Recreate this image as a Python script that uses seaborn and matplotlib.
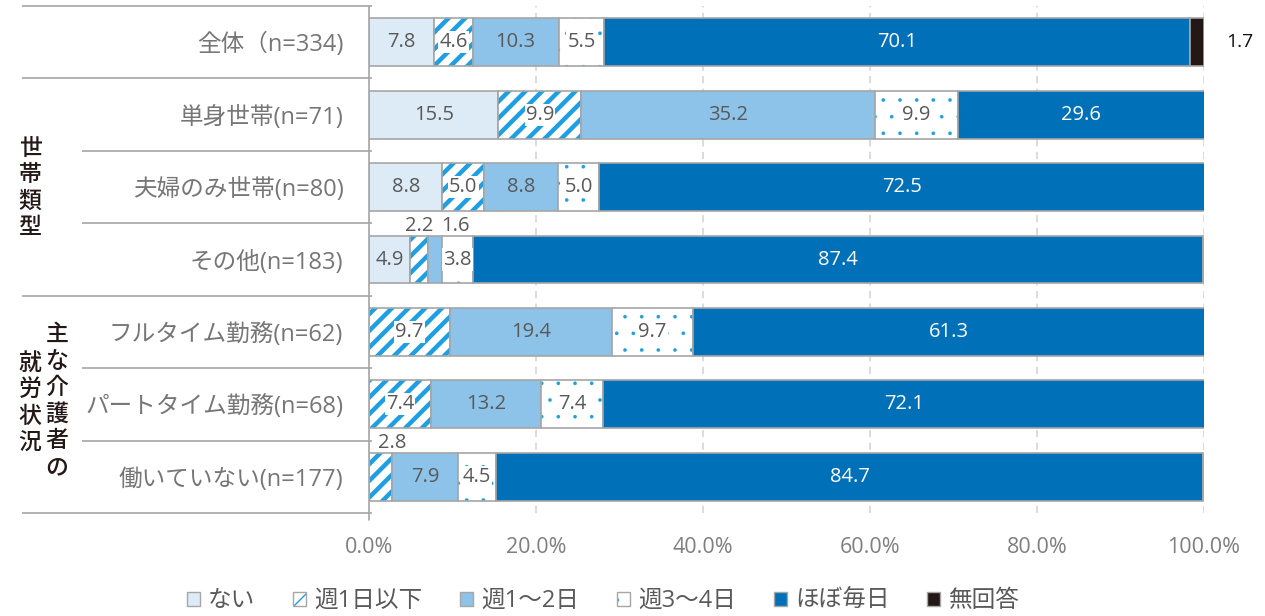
import matplotlib
matplotlib.use("Agg")
import matplotlib.pyplot as plt
import matplotlib.transforms as mtransforms
from matplotlib.patches import Patch
import numpy as np
import seaborn as sns

# ---- data -------------------------------------------------------------
categories = ["全体（n=334)", "単身世帯(n=71)", "夫婦のみ世帯(n=80)", "その他(n=183)",
              "フルタイム勤務(n=62)", "パートタイム勤務(n=68)", "働いていない(n=177)"]
series_names = ["ない", "週1日以下", "週1～2日", "週3～4日", "ほぼ毎日", "無回答"]
nai = [7.8, 15.5, 8.8, 4.9, 0.0, 0.0, 0.0]
week_le1 = [4.6, 9.9, 5.0, 2.2, 9.7, 7.4, 2.8]
week_1_2 = [10.3, 35.2, 8.8, 1.6, 19.4, 13.2, 7.9]
week_3_4 = [5.5, 9.9, 5.0, 3.8, 9.7, 7.4, 4.5]
daily = [70.1, 29.6, 72.5, 87.4, 61.3, 72.1, 84.7]
no_answer = [1.7, 0.0, 0.0, 0.0, 0.0, 0.0, 0.0]
xticks = [0, 20, 40, 60, 80, 100]
xtick_labels = ["0.0%", "20.0%", "40.0%", "60.0%", "80.0%", "100.0%"]

# ---- styling ----------------------------------------------------------
sns.set_theme(style="white")
plt.rcParams["font.family"] = ["Open Sans", "Noto Sans CJK JP", "DejaVu Sans"]

EDGE = "#A6A6A6"
VAL_GRAY = "#595959"
BLUE_PAT = "#1E9FE3"
styles = [
    dict(fc="#DDEBF7", hatch=None),
    dict(fc="white", hatch="//", hlw=3.2),
    dict(fc="#8DC3E8", hatch=None),
    dict(fc="white", hatch=".", hlw=0.2),
    dict(fc="#0070B8", hatch=None),
    dict(fc="#231815", hatch=None),
]
series = [nai, week_le1, week_1_2, week_3_4, daily, no_answer]

W, H = 1265, 616
fig = plt.figure(figsize=(W / 100, H / 100), dpi=100)
ax_left, ax_right, ax_top, ax_bottom = 369, 1204, 6, 513
ax = fig.add_axes([ax_left / W, 1 - ax_bottom / H,
                   (ax_right - ax_left) / W, (ax_bottom - ax_top) / H])

BAR_W = 0.66
left = np.zeros(len(categories))
for vals, st in zip(series, styles):
    vals = np.asarray(vals, dtype=float)
    if st["hatch"]:
        n0 = len(ax.patches)
        sns.barplot(x=vals, y=categories, orient="y", left=left, color=st["fc"],
                    edgecolor=BLUE_PAT, linewidth=0, hatch=st["hatch"],
                    width=BAR_W, saturation=1, errorbar=None, ax=ax)
        for p in ax.patches[n0:]:
            if hasattr(p, "set_hatch_linewidth"):
                p.set_hatch_linewidth(st["hlw"])
        sns.barplot(x=vals, y=categories, orient="y", left=left, fill=False,
                    color=EDGE, linewidth=1.2, width=BAR_W, saturation=1,
                    errorbar=None, ax=ax)
    else:
        sns.barplot(x=vals, y=categories, orient="y", left=left, color=st["fc"],
                    edgecolor=EDGE, linewidth=1.2, width=BAR_W, saturation=1,
                    errorbar=None, ax=ax)
    left = left + vals

# ---- value labels -----------------------------------------------------
above_shift = {(3, 1): 0, (3, 2): 15, (6, 1): 8}
starts = np.zeros(len(categories))
for si, (vals, st) in enumerate(zip(series, styles)):
    for ri, v in enumerate(vals):
        if v <= 0:
            continue
        cx = starts[ri] + v / 2
        txt = f"{v:.1f}"
        if si == 5:
            ax.annotate(txt, (100, ri), xytext=(26, 0), textcoords="offset points",
                        ha="center", va="center", fontsize=14, color="#111111",
                        annotation_clip=False)
        elif v < 3:
            ax.annotate(txt, (cx, ri - BAR_W / 2), xytext=(above_shift.get((ri, si), 0), 0),
                        textcoords="offset points", ha="center", va="bottom",
                        fontsize=14.5, color=VAL_GRAY, annotation_clip=False)
        else:
            color = "white" if si == 4 else VAL_GRAY
            bbox = dict(boxstyle="square,pad=0.05", fc="white", ec="none") if st["hatch"] else None
            ax.text(cx, ri, txt, ha="center", va="center", fontsize=14.5,
                    color=color, bbox=bbox)
    starts = starts + np.asarray(vals, dtype=float)

# ---- axes -------------------------------------------------------------
ax.set_xlim(0, 100)
ax.set_ylim(len(categories) - 0.5, -0.5)
ax.set_xticks(xticks)
ax.set_xticklabels(xtick_labels)
ax.set_yticks(range(len(categories)))
ax.set_yticklabels(categories)
ax.tick_params(axis="x", length=0, pad=17, labelsize=15.5, labelcolor="#7F7F7F")
ax.tick_params(axis="y", length=0, pad=18.5, labelsize=17, labelcolor="#767676")
ax.set_xlabel("")
ax.set_ylabel("")
for s in ax.spines.values():
    s.set_visible(False)
ax.set_axisbelow(True)
ax.grid(axis="x", color="#D9D9D9", linestyle=(0, (4, 3)), linewidth=1.3)
ax.grid(axis="y", visible=False)

# separators in the label column
trans = mtransforms.blended_transform_factory(ax.transAxes, ax.transData)
x_outer = (22 - ax_left) / (ax_right - ax_left)
x_inner = (82 - ax_left) / (ax_right - ax_left)
x_end = (372 - ax_left) / (ax_right - ax_left)
for yb in np.arange(-0.5, len(categories), 1.0):
    x0 = x_outer if yb in (-0.5, 0.5, 3.5, 6.5) else x_inner
    ax.plot([x0, x_end], [yb, yb], transform=trans, color=EDGE, lw=1.2,
            clip_on=False, solid_capstyle="butt")
ax.plot([0, 0], [-0.5, 6.6], color=EDGE, lw=1.2, clip_on=False, zorder=3)

# group captions, written vertically
def vtext(x_px, y_px, s):
    fig.text(x_px / W, 1 - y_px / H, "\n".join(s), ha="center", va="center",
             fontsize=16.5, color="#231815", linespacing=1.2,
             family=["Noto Sans CJK JP"], fontweight="medium")

vtext(30, 188, "世帯類型")
vtext(57, 401, "主な介護者の")
vtext(30, 403, "就労状況")

# ---- legend -----------------------------------------------------------
handles = []
for st in styles:
    if st["hatch"]:
        h1 = Patch(facecolor="white", edgecolor=BLUE_PAT, linewidth=0, hatch=st["hatch"])
        h2 = Patch(facecolor="none", edgecolor=EDGE, linewidth=1.0)
        handles.append((h1, h2))
    else:
        handles.append(Patch(facecolor=st["fc"], edgecolor=EDGE, linewidth=1.0))
fig.legend(handles, series_names, loc="center", bbox_to_anchor=(603 / W, 1 - 601 / H),
           ncol=6, frameon=False, fontsize=17, handlelength=0.55, handleheight=0.55,
           handletextpad=0.35, columnspacing=1.6, labelcolor="#595959")

fig.savefig("out.png", dpi=100)
